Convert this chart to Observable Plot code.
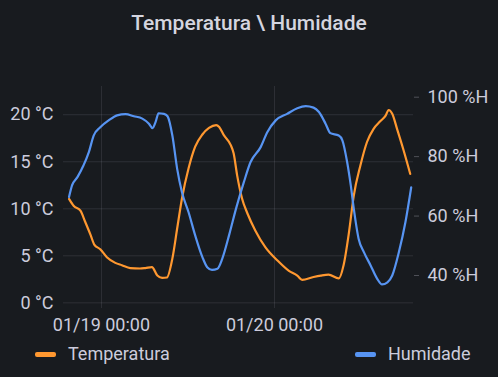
<!DOCTYPE html>
<html><head><meta charset="utf-8">
<script src="https://cdn.jsdelivr.net/npm/d3@7"></script>
<script src="https://cdn.jsdelivr.net/npm/@observablehq/plot@0.6"></script>
<style>
html,body{margin:0;padding:0;background:#181b1f;width:498px;height:377px;overflow:hidden;font-family:Roboto,"Noto Sans",sans-serif;}
#wrap{position:relative;width:498px;height:377px;}
#title{position:absolute;left:0;top:10px;width:498px;text-align:center;color:#d4d5df;font-size:21px;font-weight:500;line-height:26px;}
#chart{position:absolute;left:0;top:50px;}
.leg{position:absolute;top:343px;height:22px;display:flex;align-items:center;color:#ccccdc;font-size:18px;line-height:22px;}
.sw{width:21px;height:5px;border-radius:2px;margin-right:12px;}
</style></head>
<body>
<div id="wrap">
  <div id="title">Temperatura \ Humidade</div>
  <div id="chart"></div>
  <div class="leg" style="left:35px"><div class="sw" style="background:#FF9830"></div><span>Temperatura</span></div>
  <div class="leg" style="left:355px"><div class="sw" style="background:#5794F2"></div><span>Humidade</span></div>
</div>
<script>
// ---- data ----
const tempTimes = ["2024-01-18 19:30","2024-01-18 20:10","2024-01-18 21:05","2024-01-18 21:45","2024-01-18 22:30","2024-01-18 23:00","2024-01-18 23:50",
"2024-01-19 00:45","2024-01-19 01:55","2024-01-19 02:50","2024-01-19 04:00","2024-01-19 05:20","2024-01-19 06:05","2024-01-19 07:00","2024-01-19 07:45","2024-01-19 08:25","2024-01-19 09:05","2024-01-19 09:50","2024-01-19 10:30","2024-01-19 11:10","2024-01-19 12:05","2024-01-19 13:00","2024-01-19 14:00","2024-01-19 14:55","2024-01-19 15:55","2024-01-19 16:20","2024-01-19 17:00","2024-01-19 17:55","2024-01-19 18:20","2024-01-19 18:50","2024-01-19 19:30","2024-01-19 20:15","2024-01-19 21:20","2024-01-19 22:45",
"2024-01-20 00:25","2024-01-20 02:00","2024-01-20 03:10","2024-01-20 03:50","2024-01-20 05:25","2024-01-20 06:25","2024-01-20 07:30","2024-01-20 08:55","2024-01-20 09:35","2024-01-20 10:20","2024-01-20 11:00","2024-01-20 11:55","2024-01-20 12:50","2024-01-20 13:45","2024-01-20 14:40","2024-01-20 15:25","2024-01-20 15:50","2024-01-20 16:20","2024-01-20 17:00","2024-01-20 17:55","2024-01-20 18:50"];
const tempValues = [11.06,10.3,9.8,8.6,7.2,6.2,5.7,
4.85,4.25,4.0,3.7,3.65,3.7,3.8,2.9,2.65,2.7,4.7,7.9,11.1,14.3,16.6,17.9,18.6,18.9,18.7,17.8,16.8,15.9,13.5,11.1,9.5,7.7,5.9,
4.5,3.4,2.9,2.45,2.75,2.9,3.0,2.6,4.0,7.5,11.4,14.6,17.1,18.5,19.3,19.9,20.5,20.1,18.5,16.2,13.7];

const humTimes = ["2024-01-18 19:30","2024-01-18 19:55","2024-01-18 20:40","2024-01-18 21:30","2024-01-18 22:15","2024-01-18 22:55","2024-01-18 23:50",
"2024-01-19 01:00","2024-01-19 02:10","2024-01-19 03:20","2024-01-19 04:30","2024-01-19 05:40","2024-01-19 06:35","2024-01-19 07:05","2024-01-19 07:30","2024-01-19 07:55","2024-01-19 08:40","2024-01-19 09:10","2024-01-19 09:50","2024-01-19 10:30","2024-01-19 11:10","2024-01-19 12:05","2024-01-19 13:00","2024-01-19 14:00","2024-01-19 14:40","2024-01-19 15:20","2024-01-19 16:05","2024-01-19 16:45","2024-01-19 17:45","2024-01-19 18:40","2024-01-19 19:45","2024-01-19 20:40","2024-01-19 22:05","2024-01-19 23:00",
"2024-01-20 00:10","2024-01-20 01:45","2024-01-20 03:10","2024-01-20 04:20","2024-01-20 05:25","2024-01-20 06:10","2024-01-20 07:05","2024-01-20 07:45","2024-01-20 08:55","2024-01-20 09:25","2024-01-20 10:05","2024-01-20 10:35","2024-01-20 11:00","2024-01-20 11:40","2024-01-20 12:25","2024-01-20 13:20","2024-01-20 14:15","2024-01-20 14:55","2024-01-20 15:40","2024-01-20 16:20","2024-01-20 17:15","2024-01-20 18:10","2024-01-20 18:58"];
const humValues = [66.4,70.3,73.1,77.0,81.5,87.1,89.9,
92.2,93.9,94.3,93.6,92.8,91.1,89.6,91.6,94.6,94.4,93.6,87.1,75.9,68.0,61.3,53.5,46.2,42.8,41.9,42.3,45.6,54.0,62.5,71.4,78.1,83.2,88.2,
92.2,94.4,96.3,97.0,96.5,95.0,91.1,87.9,87.1,85.5,78.1,70.3,62.5,52.4,47.8,43.4,38.9,37.0,37.7,40.0,47.8,58.0,69.7];

const tempTicks = [0,5,10,15,20];
const humTicks = [40,60,80,100];
const xTickTimes = ["2024-01-19 00:00","2024-01-20 00:00"];
const xDomainTimes = ["2024-01-18 18:44","2024-01-20 19:17"];
const tempDomain = [-0.6, 23.0];
const humDomain = [28.9, 103.6];

// ---- build ----
const parse = d3.timeParse("%Y-%m-%d %H:%M");
const tempData = tempTimes.map((t,i)=>({t:parse(t), v:tempValues[i]}));
const humData = humTimes.map((t,i)=>({t:parse(t), v:humValues[i]}));
const h2t = d3.scaleLinear(humDomain, tempDomain);
const xTicks = xTickTimes.map(parse);
const fmt = d3.timeFormat("%m/%d %H:%M");
const grid = {stroke:"#ccccdc", strokeOpacity:0.12, strokeWidth:1};

const chart = Plot.plot({
  width:498, height:300,
  marginTop:36, marginBottom:42, marginLeft:63, marginRight:85,
  style:{background:"transparent", color:"#ccccdc", fontFamily:"Roboto, 'Noto Sans', sans-serif", fontSize:"18px"},
  x:{type:"time", domain:xDomainTimes.map(parse)},
  y:{domain:tempDomain},
  marks:[
    Plot.gridY(tempTicks, grid),
    Plot.gridX(xTicks, grid),
    Plot.axisY(tempTicks, {anchor:"left", tickSize:0, tickPadding:10, tickFormat:d=>d+" °C", label:null, fill:"#ccccdc"}),
    Plot.axisY(humTicks.map(h2t), {anchor:"right", tickSize:5, tickPadding:9, tickFormat:t=>Math.round(h2t.invert(t))+" %H", label:null, fill:"#ccccdc", stroke:"#ccccdc", strokeOpacity:0.3}),
    Plot.axisX(xTicks, {anchor:"bottom", tickSize:0, tickPadding:10, tickFormat:fmt, label:null, fill:"#ccccdc"}),
    Plot.line(tempData, {x:"t", y:"v", stroke:"#FF9830", strokeWidth:2.2, curve:"monotone-x"}),
    Plot.line(humData, {x:"t", y:d=>h2t(d.v), stroke:"#5794F2", strokeWidth:2.2, curve:"monotone-x"})
  ]
});
document.getElementById("chart").appendChild(chart);
</script>
</body></html>
